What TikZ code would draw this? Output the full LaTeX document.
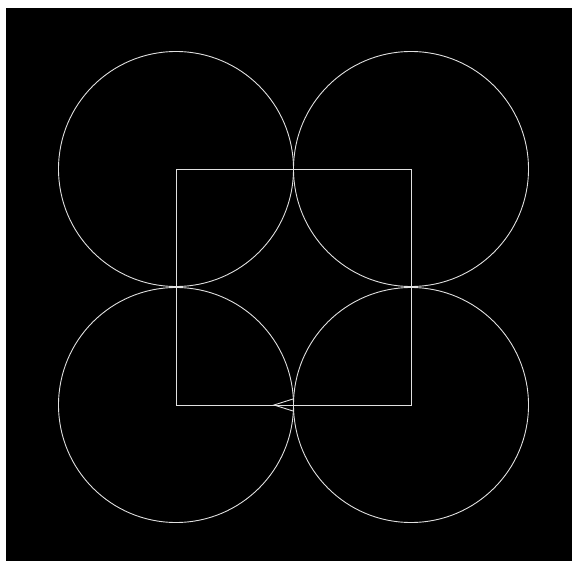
\documentclass[tikz,border=0pt]{standalone}
\begin{document}
\begin{tikzpicture}[x=1pt,y=-1pt,
  wire/.style={draw=white!88!black,line width=0.9pt}]
\useasboundingbox (0,0) rectangle (572,561);
\fill[white] (0,0) rectangle (572,561);
\fill[black] (6,8) rectangle (572,561);
\coordinate (A) at (176,169);
\coordinate (B) at (411,169);
\coordinate (C) at (411,405);
\coordinate (D) at (176,405);
\draw[wire] (A) -- (B) -- (C) -- (D) -- cycle;
\draw[wire] (A) circle (117.5);
\draw[wire] (B) circle (117.5);
\draw[wire] (C) circle (117.5);
\draw[wire] (D) circle (117.5);
\coordinate (T) at (274,405);
\coordinate (U) at (293,399);
\coordinate (V) at (293,411);
\draw[wire] (U) -- (T) -- (V);
\end{tikzpicture}
\end{document}
